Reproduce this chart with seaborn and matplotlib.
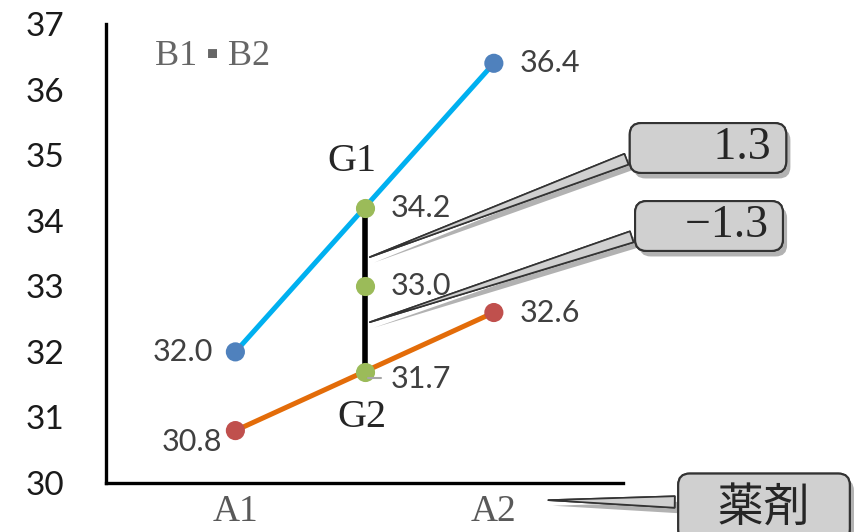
import numpy as np
import pandas as pd
import matplotlib
matplotlib.use("Agg")
import matplotlib.pyplot as plt
import matplotlib.patheffects as pe
import seaborn as sns

# values
drugs = ["A1", "A2"]
b1_vals = [32.0, 36.4]
b2_vals = [30.8, 32.6]
mid_vals = [34.2, 33.0, 31.7]      # G1, mean, G2
diff_labels = ["1.3", "\u22121.3"]
diff_y = [33.43, 32.44]            # where each callout points on the black bar

sns.set_style("white")
plt.rcParams['font.family'] = ['Lato', 'DejaVu Sans']

x_drug = [1, 3]
x_mid = 2
df = pd.DataFrame({'x': x_drug * 2, 'y': b1_vals + b2_vals,
                   'grp': ['B1'] * 2 + ['B2'] * 2})

fig = plt.figure(figsize=(8.63, 5.32), dpi=100)
ax = fig.add_axes([0.123, 0.092, 0.599, 0.863])

sns.lineplot(data=df, x='x', y='y', hue='grp', palette=['#00B0F0', '#E36C09'],
             lw=3.6, legend=False, ax=ax, zorder=2)
sns.scatterplot(data=df, x='x', y='y', hue='grp', palette=['#4F81BD', '#C0504D'],
                s=190, linewidth=0, legend=False, ax=ax, zorder=4)

# vertical bar between G1 and G2 with green points
ax.plot([x_mid, x_mid], [mid_vals[0], mid_vals[2]], color='black', lw=4, zorder=3)
sns.scatterplot(x=[x_mid] * 3, y=mid_vals, color='#9BBB59', s=190, linewidth=0,
                ax=ax, zorder=5)

lab = dict(fontsize=22, color='#404040', family=['Lato', 'DejaVu Sans'])
ax.text(x_drug[0] - 0.17, b1_vals[0], f"{b1_vals[0]:.1f}", ha='right', va='center', **lab)
ax.text(x_drug[0] - 0.1, b2_vals[0] - 0.17, f"{b2_vals[0]:.1f}", ha='right', va='center', **lab)
ax.text(x_drug[1] + 0.2, b1_vals[1], f"{b1_vals[1]:.1f}", ha='left', va='center', **lab)
ax.text(x_drug[1] + 0.2, b2_vals[1], f"{b2_vals[1]:.1f}", ha='left', va='center', **lab)
ax.text(x_mid + 0.2, mid_vals[0], f"{mid_vals[0]:.1f}", ha='left', va='center', **lab)
ax.text(x_mid + 0.2, mid_vals[1], f"{mid_vals[1]:.1f}", ha='left', va='center', **lab)
ax.text(x_mid + 0.2, mid_vals[2] - 0.12, f"{mid_vals[2]:.1f}", ha='left', va='center', **lab)
ax.plot([x_mid + 0.03, x_mid + 0.13], [mid_vals[2] - 0.1, mid_vals[2] - 0.1],
        color='#a6a6a6', lw=1.5, zorder=6)

serif = ['Liberation Serif', 'DejaVu Serif']
ax.text(x_mid - 0.1, mid_vals[0] + 0.7, "G1", ha='center', va='center',
        fontsize=29, color='#262626', family=serif)
ax.text(x_mid - 0.02, mid_vals[2] - 0.7, "G2", ha='center', va='center',
        fontsize=29, color='#262626', family=serif)
ax.text(0.38, 36.5, "B1 \u25aa B2", ha='left', va='center', fontsize=26,
        color='#666666', family=['Liberation Serif', 'DejaVu Sans'])

shadow = [pe.withSimplePatchShadow(offset=(3, -4), shadow_rgbFace='#555555', alpha=0.45),
          pe.Normal()]
box = dict(boxstyle='round,pad=0.08,rounding_size=0.25', fc='#d0d0d0', ec='#333333', lw=1.5)

callouts = [("       " + diff_labels[0] + " ", diff_y[0], (708, 384)),
            ("    " + diff_labels[1] + " ", diff_y[1], (709, 306))]
for txt, yv, pos in callouts:
    a = ax.annotate(txt, xy=(x_mid + 0.02, yv), xycoords='data',
                    xytext=pos, textcoords='figure pixels', ha='center', va='center',
                    fontsize=33, color='#262626', family=serif, bbox=box,
                    arrowprops=dict(arrowstyle='wedge,tail_width=0.25,shrink_factor=0.5',
                                    fc='#d0d0d0', ec='#333333', lw=1.2, relpos=(0.0, 0.3)),
                    annotation_clip=False, zorder=7)
    a.get_bbox_patch().set_path_effects(shadow)
    a.arrow_patch.set_path_effects(shadow)

a = ax.annotate("   \u85ac\u5264   ", xy=(3.4, 29.74), xycoords='data',
                xytext=(764, 25), textcoords='figure pixels', ha='center', va='center',
                fontsize=33, color='#262626', family=['Noto Sans CJK JP'],
                bbox=dict(boxstyle='round,pad=0.2,rounding_size=0.25', fc='#d0d0d0',
                          ec='#333333', lw=1.5),
                arrowprops=dict(arrowstyle='wedge,tail_width=0.25,shrink_factor=0.5',
                                fc='#d0d0d0', ec='#333333', lw=1.2, relpos=(0.0, 0.6)),
                annotation_clip=False, zorder=7)
a.get_bbox_patch().set_path_effects(shadow)
a.arrow_patch.set_path_effects(shadow)

ax.set_xlim(0, 4)
ax.set_ylim(30, 37)
ax.set_yticks(range(30, 38))
ax.set_xticks([1, 2, 3, 4])
ax.set_xticklabels([drugs[0], "", drugs[1], ""], family=serif, fontsize=27, color='#595959')
ax.tick_params(axis='y', direction='in', length=8, width=2.2, labelsize=24,
               pad=30, labelcolor='#1a1a1a')
ax.tick_params(axis='x', direction='in', length=8, width=2.2, pad=8)
for s in ['top', 'right']:
    ax.spines[s].set_visible(False)
for s in ['left', 'bottom']:
    ax.spines[s].set_linewidth(2.4)
    ax.spines[s].set_color('black')
ax.set_xlabel("")
ax.set_ylabel("")

fig.savefig("out.png", dpi=100)
